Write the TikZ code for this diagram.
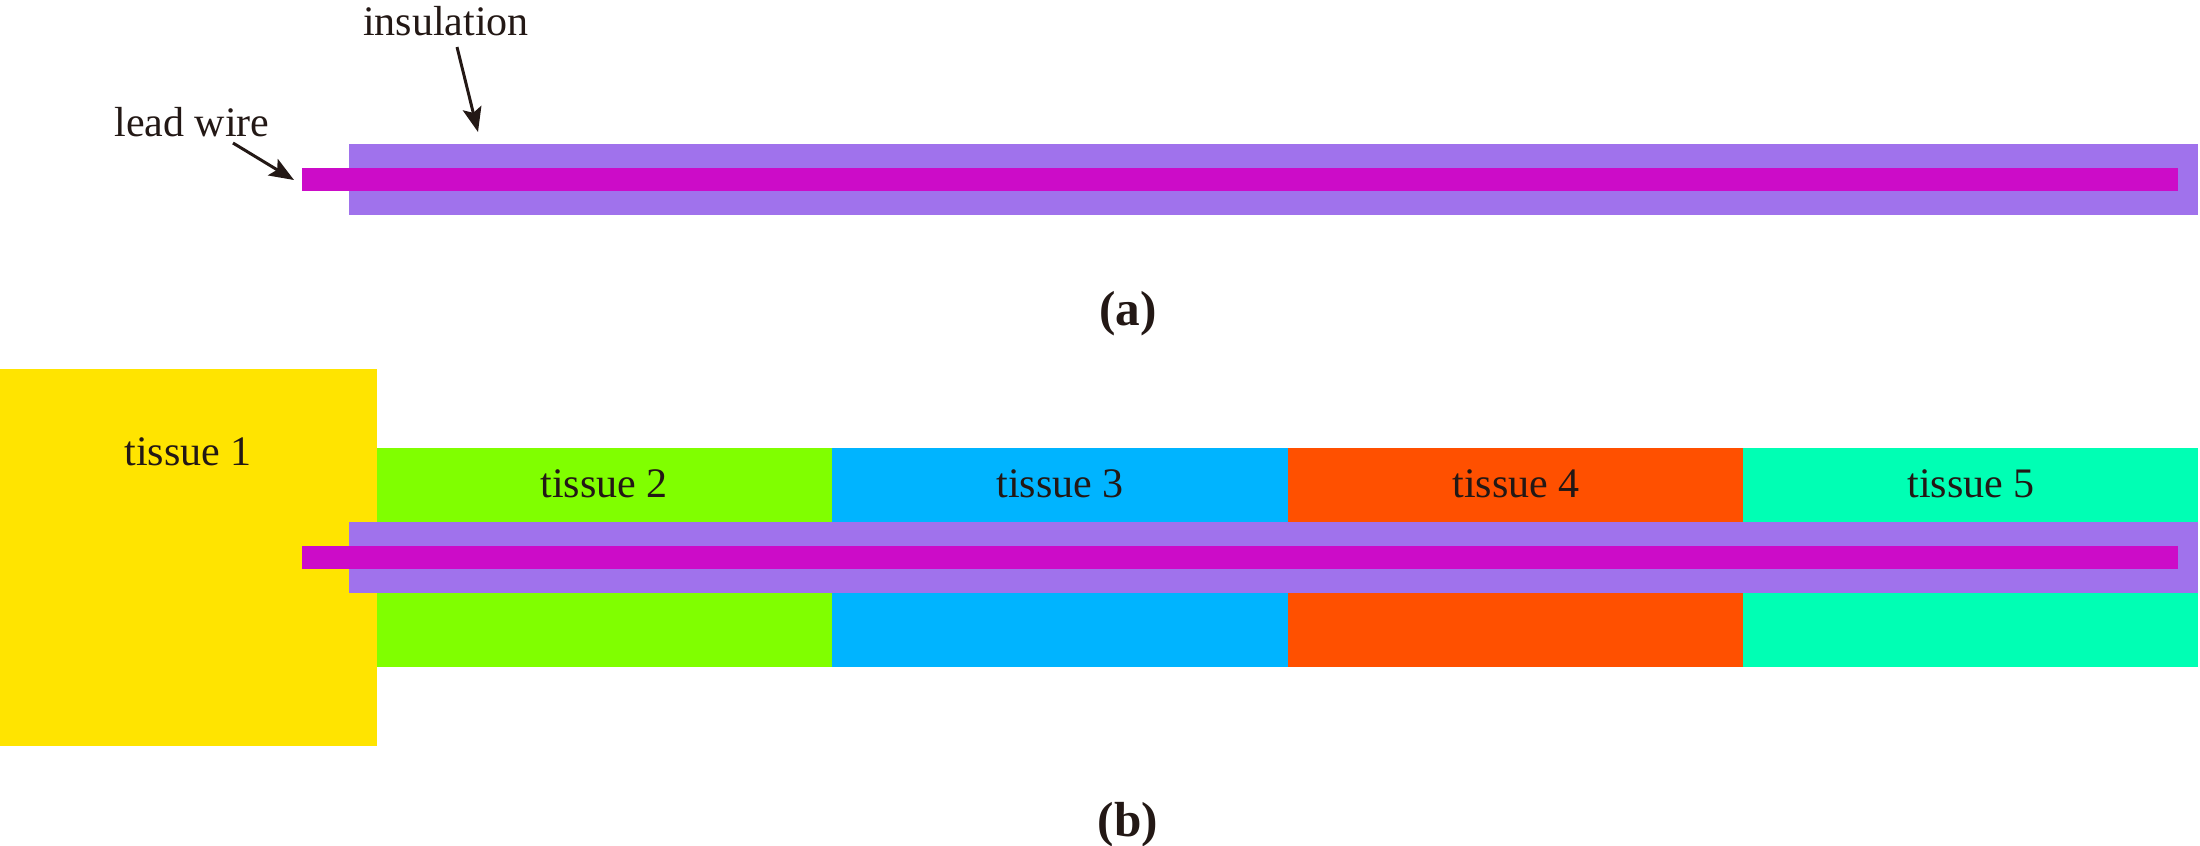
\documentclass[tikz,border=0pt]{standalone}
\usepackage{fontspec}
\setmainfont{Liberation Serif}
\usetikzlibrary{arrows.meta}
\definecolor{insul}{RGB}{160,114,236}
\definecolor{wirec}{RGB}{204,12,200}
\definecolor{tisA}{RGB}{255,228,0}
\definecolor{tisB}{RGB}{128,255,0}
\definecolor{tisC}{RGB}{0,180,255}
\definecolor{tisD}{RGB}{255,80,0}
\definecolor{tisE}{RGB}{0,255,180}
\definecolor{ink}{RGB}{35,24,21}
\tikzset{
  lbl/.style={inner sep=0pt, anchor=base, text=ink, font=\fontsize{11.95}{14}\selectfont},
  captxt/.style={inner sep=0pt, anchor=center, text=ink, font=\fontsize{14}{16}\selectfont\bfseries},
  pointer/.style={draw=ink, line width=0.85pt, -{Stealth[length=7pt,width=5.4pt,inset=1.4pt]}}
}
\begin{document}
\begin{tikzpicture}[x=0.01cm,y=-0.01cm]
\useasboundingbox (0,0) rectangle (2200,845);
% ---- (a) ----
\fill[insul] (349,144) rectangle (2198,215);
\fill[wirec] (302,168) rectangle (2178,191);
\node[lbl] (ins) at (446,35) {insulation};
\node[lbl] (lead) at (192,136) {lead wire};
\coordinate (insStart) at (457,47);
\coordinate (insTip) at (478,132);
\coordinate (leadStart) at (233,143);
\coordinate (leadTip) at (294,180);
\draw[pointer] (insStart) -- (insTip);
\draw[pointer] (leadStart) -- (leadTip);
\node[captxt] (capa) at (1128,314) {(a)};
% ---- (b) ----
\fill[tisA] (0,369) rectangle (377,746);
\fill[tisB] (377,448) rectangle (832,667);
\fill[tisC] (832,448) rectangle (1288,667);
\fill[tisD] (1288,448) rectangle (1743,667);
\fill[tisE] (1743,448) rectangle (2198,667);
\fill[insul] (349,522) rectangle (2198,593);
\fill[wirec] (302,546) rectangle (2178,569);
\node[lbl] (t1) at (188,465) {tissue 1};
\node[lbl] (t2) at (604,497) {tissue 2};
\node[lbl] (t3) at (1060,497) {tissue 3};
\node[lbl] (t4) at (1516,497) {tissue 4};
\node[lbl] (t5) at (1971,497) {tissue 5};
\node[captxt] (capb) at (1128,825) {(b)};
\end{tikzpicture}
\end{document}
